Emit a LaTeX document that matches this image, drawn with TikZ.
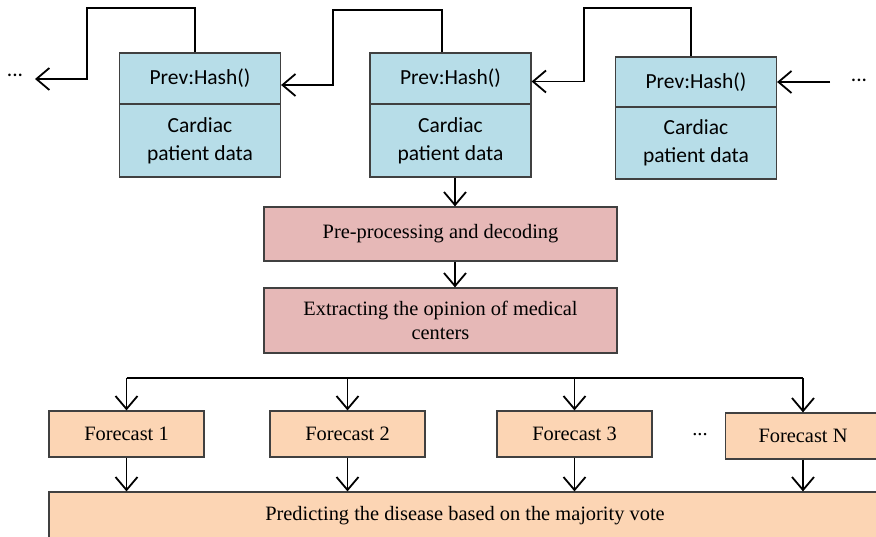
\documentclass[tikz,border=0pt]{standalone}
\usepackage{fontspec}
\setmainfont{Liberation Serif}
\newfontfamily\calibri{Carlito}
\usetikzlibrary{arrows.meta}
\definecolor{hashblue}{RGB}{183,221,232}
\definecolor{procpink}{RGB}{230,184,183}
\definecolor{votepeach}{RGB}{252,213,180}

\begin{document}
\begin{tikzpicture}
[every node/.style={inner sep=0pt},
 blockbox/.style={rectangle, fill=hashblue, draw=black!75, line width=1.2pt, minimum width=161pt, align=center, font=\calibri\fontsize{21.5}{28}\selectfont},
 procbox/.style={rectangle, fill=procpink, draw=black!75, line width=1.2pt, minimum width=353pt, align=center, font=\fontsize{20.4}{24}\selectfont},
 castbox/.style={rectangle, fill=votepeach, draw=black!75, line width=1.2pt, minimum width=155pt, minimum height=46pt, font=\fontsize{20.4}{24}\selectfont},
 link/.style={line width=1.8pt, color=black},
 arr/.style={link, -{Straight Barb[length=13pt,width=22pt,line width=1.8pt]}}]
\path[use as bounding box, clip] (0pt,0pt) rectangle (876pt,-537pt);
\node (h1) [blockbox, minimum height=51pt] at (200.0pt, -78.5pt) {Prev:Hash()};
\node (d1) [blockbox, minimum height=73pt] at (200.0pt, -140.5pt) {Cardiac\\patient data};
\node (h2) [blockbox, minimum height=51pt] at (450.5pt, -78.5pt) {Prev:Hash()};
\node (d2) [blockbox, minimum height=73pt] at (450.5pt, -140.5pt) {Cardiac\\patient data};
\node (h3) [blockbox, minimum height=50pt] at (696.0pt, -82.0pt) {Prev:Hash()};
\node (d3) [blockbox, minimum height=72pt] at (696.0pt, -143.0pt) {Cardiac\\patient data};
\node (dotsL) [font=\calibri\fontsize{21.5}{27}\selectfont] at (15.0pt, -75.0pt) {...};
\node (dotsR) [font=\calibri\fontsize{21.5}{27}\selectfont] at (859.0pt, -80.0pt) {...};
\coordinate (endL) at (35.0pt, -79.0pt);
\coordinate (startR) at (830.0pt, -82.0pt);
\node (pre) [procbox, minimum height=54pt] at (440.5pt, -234.0pt) {\raisebox{3pt}{Pre-processing and decoding}};
\node (ext) [procbox, minimum height=65pt] at (440.5pt, -320.5pt) {Extracting the opinion of medical\\centers};
\node (f1) [castbox] at (126.5pt, -434.0pt) {Forecast 1};
\node (f2) [castbox] at (347.5pt, -434.0pt) {Forecast 2};
\node (f3) [castbox] at (574.5pt, -434.0pt) {Forecast 3};
\node (fN) [castbox] at (803.0pt, -436.0pt) {Forecast N};
\node (dotsF) [font=\fontsize{20.4}{24}\selectfont] at (700.0pt, -435.0pt) {...};
\node (vote) [castbox, minimum width=832pt, minimum height=48pt] at (465.0pt, -516.0pt) {\raisebox{4pt}{Predicting the disease based on the majority vote}};
\coordinate (busy) at (0pt, -378.0pt);
\draw [arr] ([xshift=-5pt]h1.north) |- (87.0pt, -8.0pt) |- (endL);
\draw [arr] ([xshift=-8.5pt]h2.north) |- (333.0pt, -10.0pt) |- ([yshift=-6.5pt]h1.east);
\draw [arr] ([xshift=-5pt]h3.north) |- (584.0pt, -8.0pt) |- ([yshift=-3pt]h2.east);
\draw [arr] (startR) -- (h3.east);
\draw [arr] ([xshift=4.5pt]d2.south) -- ([xshift=4.5pt]d2.south |- pre.north);
\draw [arr] ([xshift=14.5pt]pre.south) -- ([xshift=14.5pt]pre.south |- ext.north);
\draw [link] (f1.north |- busy) -- (fN.north |- busy);
\foreach \f in {f1,f2,f3,fN}
{
\draw [arr] (\f.north |- busy) -- (\f.north);
\draw [arr] (\f.south) -- (\f.south |- vote.north);
}
\end{tikzpicture}
\end{document}
